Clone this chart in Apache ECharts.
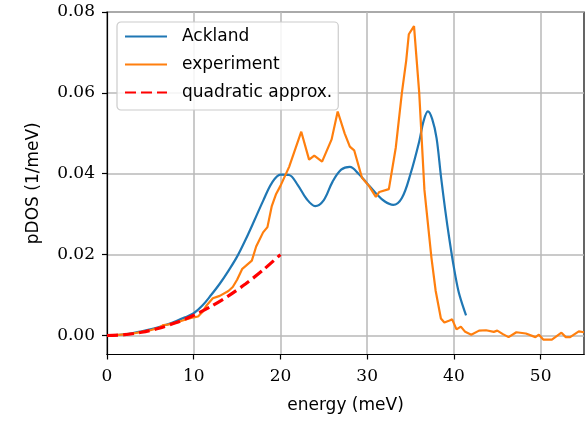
<!DOCTYPE html>
<html>
<head>
<meta charset="utf-8">
<script src="https://cdn.jsdelivr.net/npm/echarts@6/dist/echarts.min.js"></script>
<style>
  html, body { margin: 0; padding: 0; background: #ffffff; }
  #chart { width: 586px; height: 422px; }
</style>
</head>
<body>
<div id="chart"></div>
<script>
// Phonon partial density of states: calculated (Ackland potential), measured, and low-energy quadratic fit
const acklandEnergy = [0, 1, 2, 3, 4, 5, 6, 7, 8, 9, 10, 11, 12, 13, 14, 15, 16, 17, 18, 19, 20, 21, 22, 23, 24, 25, 26, 27, 28, 29, 30, 31, 32, 33, 34, 35, 36, 36.5, 37, 37.5, 38, 38.5, 39, 39.5, 40, 40.5, 41, 41.4];
const acklandDOS = [0, 0.0001, 0.0003, 0.0006, 0.0010, 0.0015, 0.0021, 0.0028, 0.0036, 0.0045, 0.0055, 0.0074, 0.0100, 0.0128, 0.0160, 0.0195, 0.0238, 0.0285, 0.0333, 0.0377, 0.0398, 0.0397, 0.0372, 0.0338, 0.0320, 0.0335, 0.0380, 0.0410, 0.0417, 0.0400, 0.0376, 0.0352, 0.0332, 0.0323, 0.0340, 0.0400, 0.0480, 0.0530, 0.0554, 0.0535, 0.0488, 0.0395, 0.0310, 0.0235, 0.0168, 0.0112, 0.0075, 0.0050];

const expEnergy = [0, 1, 2, 3, 4, 5, 6, 6.5, 7, 8, 9, 10, 10.5, 11, 11.5, 12.2, 13, 14, 14.5, 15, 15.6, 16, 16.7, 17.2, 18, 18.5, 19, 19.5, 20, 21, 22.4, 23.3, 23.9, 24.8, 25.9, 26.6, 27.4, 28.0, 28.5, 29.4, 30.2, 31.0, 31.4, 32.5, 33.3, 34.0, 34.5, 34.8, 35.4, 36.0, 36.6, 37.4, 37.9, 38.5, 38.9, 39.5, 39.8, 40.3, 40.8, 41.3, 42.0, 42.9, 43.7, 44.6, 45.0, 45.6, 46.3, 47.2, 48.3, 49.4, 49.8, 50.3, 51.3, 52.4, 52.9, 53.4, 54.4, 55.0];
const expDOS = [0, 0.0001, 0.0003, 0.0005, 0.0009, 0.0013, 0.0019, 0.0026, 0.0027, 0.0032, 0.0039, 0.0045, 0.0047, 0.0058, 0.0075, 0.0092, 0.0098, 0.0110, 0.0120, 0.0138, 0.0165, 0.0172, 0.0185, 0.0220, 0.0255, 0.0268, 0.0320, 0.0350, 0.0370, 0.0417, 0.0504, 0.0435, 0.0445, 0.0430, 0.0485, 0.0554, 0.0500, 0.0467, 0.0458, 0.0390, 0.0370, 0.0343, 0.0355, 0.0362, 0.0465, 0.0600, 0.0680, 0.0745, 0.0765, 0.0600, 0.0360, 0.0194, 0.0110, 0.0042, 0.0032, 0.0037, 0.0040, 0.0015, 0.0022, 0.0009, 0.0002, 0.0012, 0.0013, 0.0009, 0.0012, 0.0004, -0.0004, 0.0008, 0.0005, -0.0004, 0.0002, -0.0010, -0.0010, 0.0007, -0.0004, -0.0004, 0.0010, 0.0008];

const quadEnergy = [0, 2, 4, 6, 8, 10, 12, 14, 16, 18, 20];
const quadDOS = [0, 0.0002, 0.0008, 0.0018, 0.0032, 0.0050, 0.0072, 0.0098, 0.0128, 0.0162, 0.0200];

const xTicks = [0, 10, 20, 30, 40, 50];
const yTicks = [0, 0.02, 0.04, 0.06, 0.08];

const pairs = (xs, ys) => xs.map((x, i) => [x, ys[i]]);

const serif = 'DejaVu Serif';
const sans = 'DejaVu Sans';
const gridColor = '#b9b9b9';

const chart = echarts.init(document.getElementById('chart'), null, { renderer: 'canvas' });

chart.setOption({
  animation: false,
  backgroundColor: '#ffffff',
  grid: {
    left: 107, right: 2, top: 12, bottom: 67.5,
    show: true, borderColor: '#000000', borderWidth: 1.2, backgroundColor: 'transparent'
  },
  legend: {
    orient: 'vertical',
    left: 117, top: 22,
    width: 226,
    itemWidth: 42, itemHeight: 14,
    itemGap: 11,
    padding: [6, 6, 9, 7],
    backgroundColor: 'rgba(255,255,255,0.85)',
    borderColor: '#cccccc', borderWidth: 1.2, borderRadius: 4,
    itemStyle: { opacity: 0 },
    textStyle: { fontFamily: sans, fontSize: 17, color: '#000000', padding: [0, 0, 0, 10] },
    data: ['Ackland', 'experiment', 'quadratic approx.']
  },
  xAxis: {
    type: 'value', min: 0, max: 55,
    name: 'energy (meV)', nameLocation: 'middle', nameGap: 43,
    nameTextStyle: { fontFamily: sans, fontSize: 17, color: '#000000' },
    axisLine: { show: true, onZero: false, lineStyle: { color: '#000000', width: 1.2 } },
    axisTick: { show: true, length: 5, customValues: xTicks, lineStyle: { color: '#000000', width: 1.2 } },
    axisLabel: { customValues: xTicks, margin: 14, fontFamily: serif, fontSize: 17, color: '#000000' },
    splitLine: { show: true, lineStyle: { color: gridColor, width: 1.5 } }
  },
  yAxis: {
    type: 'value', min: -0.0047, max: 0.08,
    name: 'pDOS (1/meV)', nameLocation: 'middle', nameGap: 65,
    nameTextStyle: { fontFamily: sans, fontSize: 17, color: '#000000' },
    axisLine: { show: true, onZero: false, lineStyle: { color: '#000000', width: 1.2 } },
    axisTick: { show: true, length: 5, customValues: yTicks, lineStyle: { color: '#000000', width: 1.2 } },
    axisLabel: { customValues: yTicks, margin: 12, fontFamily: serif, fontSize: 17, color: '#000000',
      formatter: v => v.toFixed(2) },
    splitLine: { show: true, lineStyle: { color: gridColor, width: 1.5 } }
  },
  series: [
    {
      name: 'Ackland', type: 'line', data: pairs(acklandEnergy, acklandDOS),
      symbol: 'none', smooth: 0.35, z: 3,
      lineStyle: { color: '#1f77b4', width: 2.2 }, itemStyle: { color: '#1f77b4' }
    },
    {
      name: 'experiment', type: 'line', data: pairs(expEnergy, expDOS),
      symbol: 'none', smooth: false, z: 4,
      lineStyle: { color: '#ff7f0e', width: 2.2 }, itemStyle: { color: '#ff7f0e' }
    },
    {
      name: 'quadratic approx.', type: 'line', data: pairs(quadEnergy, quadDOS),
      symbol: 'none', smooth: 0.3, z: 5,
      lineStyle: { color: '#ff0000', width: 3.2, type: [11, 5] }, itemStyle: { color: '#ff0000' }
    }
  ]
});
</script>
</body>
</html>
